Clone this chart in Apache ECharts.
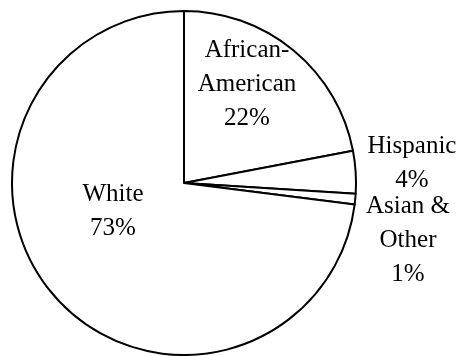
<!DOCTYPE html>
<html>
<head>
<meta charset="utf-8">
<script src="https://cdn.jsdelivr.net/npm/echarts@6/dist/echarts.min.js"></script>
<style>
html,body{margin:0;padding:0;background:#fff;}
#chart{width:461px;height:356px;}
</style>
</head>
<body>
<div id="chart"></div>
<script>
// Data
const categories = ['African-\nAmerican', 'Hispanic', 'Asian &\nOther', 'White'];
const shares = [22, 4, 1, 73];

// Label layout (pixel centres of each label block)
const labelCentres = [[247, 84], [412, 163], [408, 240], [113, 211]];

const chart = echarts.init(document.getElementById('chart'), null, {renderer: 'canvas'});
chart.setOption({
  animation: false,
  backgroundColor: '#ffffff',
  series: [{
    type: 'pie',
    center: [184, 183],
    radius: [0, 172],
    startAngle: 90,
    clockwise: true,
    avoidLabelOverlap: false,
    silent: true,
    itemStyle: {color: '#ffffff', borderColor: '#000000', borderWidth: 2},
    label: {
      show: true,
      position: 'inside',
      formatter: '{b}\n{c}%',
      fontFamily: 'Times New Roman, Liberation Serif, serif',
      fontSize: 25,
      lineHeight: 34,
      color: '#000000',
      align: 'center'
    },
    labelLine: {show: false},
    labelLayout: function (p) {
      const c = labelCentres[p.dataIndex];
      return {x: c[0], y: c[1], align: 'center', verticalAlign: 'middle'};
    },
    data: categories.map((n, i) => ({name: n, value: shares[i]}))
  }]
});
</script>
</body>
</html>
